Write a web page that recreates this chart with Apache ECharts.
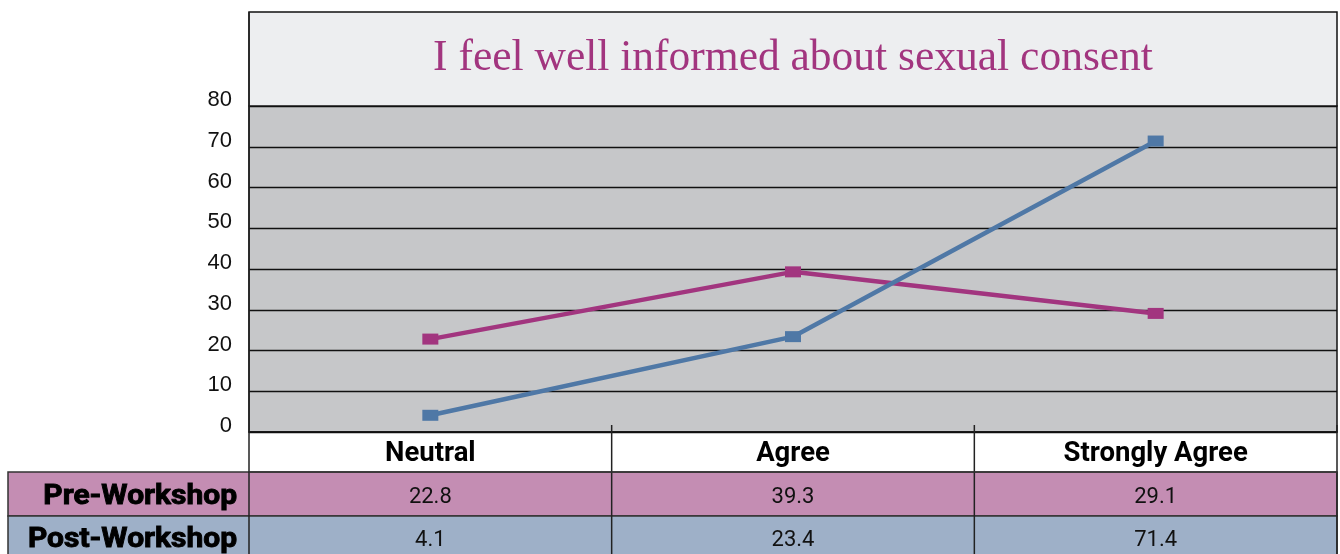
<!DOCTYPE html>
<html>
<head>
<meta charset="utf-8">
<script src="https://cdn.jsdelivr.net/npm/echarts@6/dist/echarts.min.js"></script>
<style>
  html, body { margin: 0; padding: 0; background: #fff; }
  #main { width: 1340px; height: 554px; }
</style>
</head>
<body>
<div id="main"></div>
<script>
// data
const categories = ['Neutral', 'Agree', 'Strongly Agree'];
const preWorkshop = [22.8, 39.3, 29.1];
const postWorkshop = [4.1, 23.4, 71.4];
const seriesNames = ['Pre-Workshop', 'Post-Workshop'];
const titleText = 'I feel well informed about sexual consent';

const PINK = '#a2357f';
const BLUE = '#4f78a6';
const PINK_ROW = '#c48db3';
const BLUE_ROW = '#9eb0c8';

const GL = 249, GR = 1337, GT = 106, GB = 432;

let myChart = echarts.init(document.getElementById('main'));

let option = {
  animation: false,
  grid: {
    left: GL, right: 1340 - GR, top: GT, bottom: 554 - GB,
    show: true, backgroundColor: '#c6c7c9', borderColor: '#111', borderWidth: 1.5
  },
  xAxis: {
    type: 'category',
    data: categories,
    boundaryGap: true,
    axisLine: { show: true, lineStyle: { color: '#111', width: 1.5 } },
    axisTick: { show: false },
    axisLabel: { show: false }
  },
  yAxis: {
    type: 'value',
    min: 0, max: 80, interval: 10,
    axisLine: { show: false },
    axisTick: { show: false },
    axisLabel: { color: '#111', fontSize: 22, fontFamily: 'Liberation Sans', margin: 17,
      verticalAlign: 'bottom', lineHeight: 12 },
    splitLine: { lineStyle: { color: '#111', width: 1.3 } }
  },
  series: [
    {
      name: seriesNames[0], type: 'line', data: preWorkshop,
      symbol: 'rect', symbolSize: [16, 11],
      lineStyle: { color: PINK, width: 4.5 },
      itemStyle: { color: PINK }
    },
    {
      name: seriesNames[1], type: 'line', data: postWorkshop,
      symbol: 'rect', symbolSize: [16, 11],
      lineStyle: { color: BLUE, width: 4.5 },
      itemStyle: { color: BLUE }
    }
  ]
};
myChart.setOption(option);

// title box + table under the chart
function buildGraphics() {
  const els = [];
  const band = (GR - GL) / categories.length;
  const rows = [
    { top: 472, bottom: 516, fill: PINK_ROW, label: seriesNames[0], vals: preWorkshop, ty: 497 },
    { top: 516, bottom: 560, fill: BLUE_ROW, label: seriesNames[1], vals: postWorkshop, ty: 540 }
  ];
  // title box
  els.push({ type: 'rect', shape: { x: GL, y: 12, width: GR - GL, height: GT - 12 },
    style: { fill: '#edeef0', stroke: '#111', lineWidth: 1.5 }, z: 1 });
  els.push({ type: 'text', x: (GL + GR) / 2, y: 59,
    style: { text: titleText, fill: PINK, font: '300 43.5px "Liberation Serif"', align: 'center', verticalAlign: 'middle' }, z: 2 });

  // row fills
  rows.forEach(function (row) {
    els.push({ type: 'rect', shape: { x: 8, y: row.top, width: GR - 8, height: row.bottom - row.top },
      style: { fill: row.fill, stroke: '#333', lineWidth: 1.5 }, z: 1 });
    els.push({ type: 'text', x: 237, y: row.ty, scaleX: 1.11,
      style: { text: row.label, fill: '#000', stroke: '#000', lineWidth: 0.9,
        font: 'bold 27px Roboto', align: 'right', verticalAlign: 'middle' }, z: 3 });
    row.vals.forEach(function (v, i) {
      const cx = myChart.convertToPixel({ xAxisIndex: 0 }, i);
      els.push({ type: 'text', x: cx, y: row.ty,
        style: { text: v.toFixed(1), fill: '#111', font: '22px Roboto', align: 'center', verticalAlign: 'middle' }, z: 3 });
    });
  });
  // category header
  categories.forEach(function (c, i) {
    const cx = myChart.convertToPixel({ xAxisIndex: 0 }, i);
    els.push({ type: 'text', x: cx, y: 454,
      style: { text: c, fill: '#000', font: 'bold 27.5px Roboto', align: 'center', verticalAlign: 'middle' }, z: 3 });
  });
  // vertical dividers
  for (let i = 0; i <= categories.length; i++) {
    const x = GL + band * i;
    const y1 = (i === 0) ? 12 : 425;
    els.push({ type: 'line', shape: { x1: x, y1: y1, x2: x, y2: 554 },
      style: { stroke: '#222', lineWidth: 1.5 }, z: 4 });
  }
  // header bottom line
  els.push({ type: 'line', shape: { x1: GL, y1: 472, x2: GR, y2: 472 }, style: { stroke: '#333', lineWidth: 1.5 }, z: 4 });
  myChart.setOption({ graphic: els });
}
buildGraphics();
</script>
</body>
</html>
